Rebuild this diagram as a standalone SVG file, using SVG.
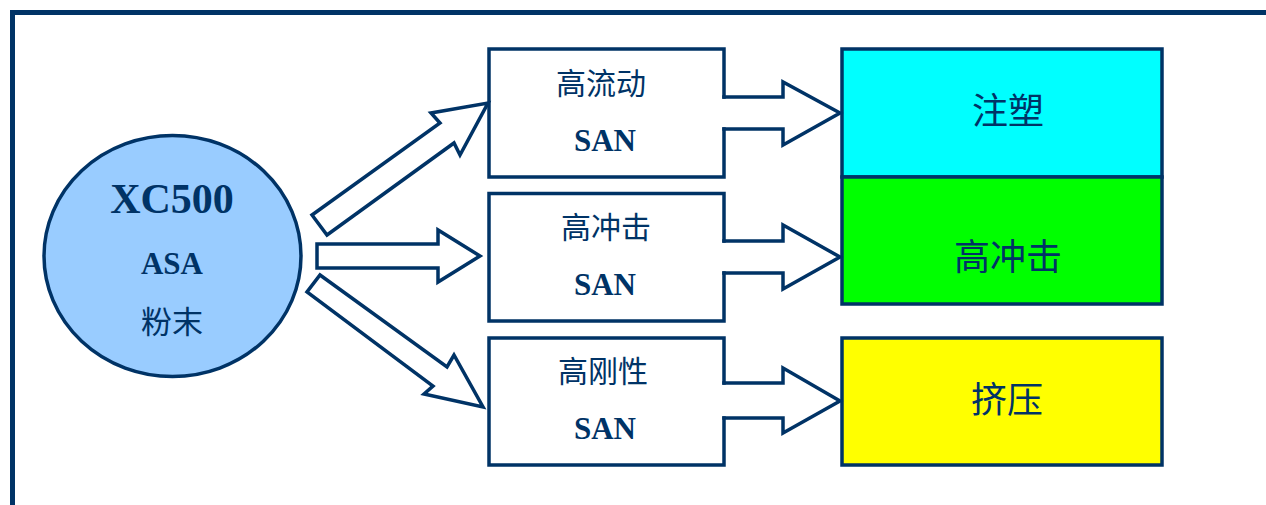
<svg xmlns="http://www.w3.org/2000/svg" width="1266" height="505" viewBox="0 0 1266 505">
<style>
.ln{fill:none;stroke:#003366;stroke-width:3.5;stroke-linecap:square;stroke-linejoin:miter}
.blk{fill:#ffffff;stroke:#003366;stroke-width:3.5;stroke-linejoin:miter}
.en{font-family:"Liberation Serif","Times New Roman",serif;font-weight:bold;fill:#003366;text-anchor:middle}
.cn{font-family:"Liberation Serif","Noto Sans CJK SC",serif;fill:#003366;text-anchor:middle}
</style>
<rect x="0" y="0" width="1266" height="505" fill="#ffffff"/>
<path d="M12.5,505 V12.5 H1266" fill="none" stroke="#003366" stroke-width="5"/>
<g id="source">
<ellipse cx="172.5" cy="256" rx="128.5" ry="120.5" fill="#99CCFF" stroke="#003366" stroke-width="3.5"/>
<text class="en" x="172" y="213" font-size="42">XC500</text>
<text class="en" x="172" y="274" font-size="31">ASA</text>
<text class="cn" x="172" y="333" font-size="31">粉末</text>
</g>
<g id="san-flow">
<path class="ln" d="M724,97 V49 H489 V177 H724 V129"/>
<text class="cn" x="601" y="94" font-size="30">高流动</text>
<text class="en" x="605" y="151" font-size="31">SAN</text>
</g>
<g id="san-impact">
<path class="ln" d="M724,241 V193.5 H489 V321 H724 V273"/>
<text class="cn" x="606" y="238" font-size="30">高冲击</text>
<text class="en" x="605" y="295" font-size="31">SAN</text>
</g>
<g id="san-rigid">
<path class="ln" d="M724,383 V338 H489 V465 H724 V418"/>
<text class="cn" x="603" y="382" font-size="30">高刚性</text>
<text class="en" x="605" y="439" font-size="31">SAN</text>
</g>
<g id="injection">
<rect x="842" y="49" width="320" height="128" fill="#00FFFF" stroke="#003366" stroke-width="3.5"/>
<text class="cn" x="1008" y="124" font-size="36">注塑</text>
</g>
<g id="impact">
<rect x="842" y="177" width="320" height="127" fill="#00FF00" stroke="#003366" stroke-width="3.5"/>
<text class="cn" x="1008" y="270" font-size="36">高冲击</text>
</g>
<g id="extrusion">
<rect x="842" y="338" width="320" height="127" fill="#FFFF00" stroke="#003366" stroke-width="3.5"/>
<text class="cn" x="1007" y="413" font-size="36">挤压</text>
</g>
<g id="connectors">
<polygon class="blk" points="312,215 440,123 431,113 488,103 460,155 454,143 327,235"/>
<polygon class="blk" points="317,244 438,244 438,230 480,256 438,282 438,268 317,268"/>
<polygon class="blk" points="320,275 447,367 454,355 483,407 424,394 433,386 307,292"/>
<path class="ln" d="M724,97 H783 V82 L840,113 L783,145 V129 H724"/>
<path class="ln" d="M724,241 H783 V225 L840,257 L783,289 V273 H724"/>
<path class="ln" d="M724,383 H783 V368 L840,401 L783,433 V418 H724"/>
</g>
</svg>
